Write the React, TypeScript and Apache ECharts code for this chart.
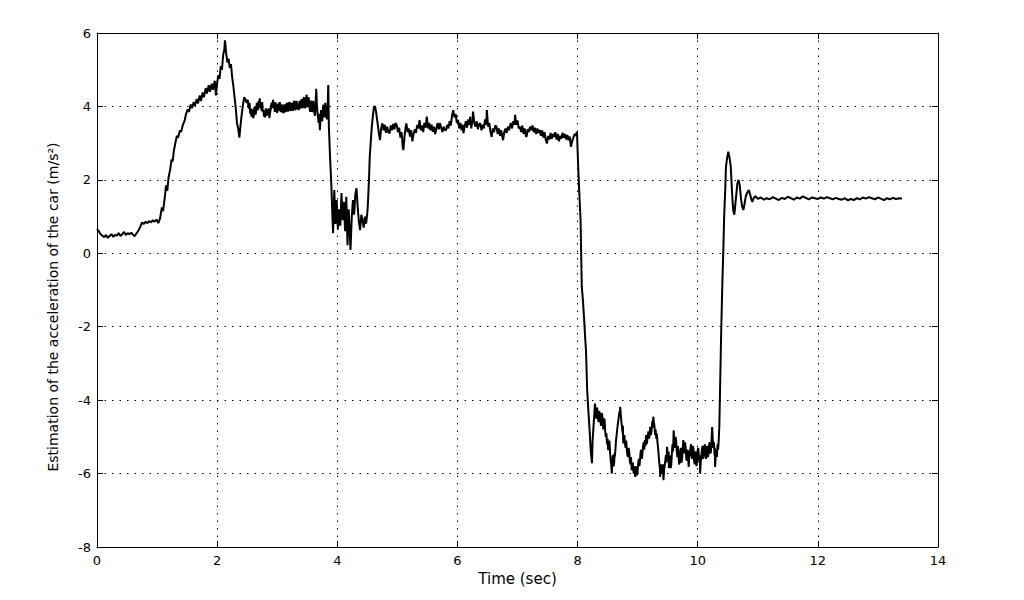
import React, { useEffect, useRef } from "react";
import * as echarts from "echarts";

// Time (sec) / acceleration estimate (m/s^2) pairs, by phase
const idle: [number, number][] = [
  [0.0, 0.66], [0.03, 0.6], [0.06, 0.52], [0.09, 0.48], [0.12, 0.44], [0.15, 0.5], [0.18, 0.42],
  [0.21, 0.47], [0.24, 0.52], [0.27, 0.45], [0.3, 0.5], [0.33, 0.48], [0.36, 0.55], [0.39, 0.47],
  [0.42, 0.52], [0.45, 0.58], [0.48, 0.5], [0.51, 0.55], [0.54, 0.52], [0.57, 0.56], [0.6, 0.5],
  [0.63, 0.47], [0.66, 0.55], [0.69, 0.62], [0.72, 0.72], [0.75, 0.84], [0.78, 0.8], [0.81, 0.86],
  [0.84, 0.82], [0.87, 0.88], [0.9, 0.84], [0.93, 0.9], [0.96, 0.86], [0.99, 0.92], [1.02, 0.82],
  [1.05, 0.95],
];

const launch: [number, number][] = [
  [1.08, 1.25], [1.1, 1.15], [1.13, 1.55], [1.15, 1.85], [1.17, 1.7], [1.19, 2.05], [1.22, 2.3],
  [1.24, 2.55], [1.26, 2.5], [1.28, 2.8], [1.31, 3.05], [1.33, 3.2], [1.35, 3.15], [1.38, 3.35],
  [1.4, 3.3], [1.43, 3.5], [1.46, 3.62], [1.48, 3.78], [1.51, 3.92], [1.53, 3.85], [1.56, 4.05],
  [1.58, 3.95], [1.61, 4.12], [1.63, 4.02], [1.66, 4.2], [1.68, 4.08], [1.71, 4.3], [1.73, 4.15],
  [1.76, 4.38], [1.78, 4.25], [1.81, 4.5], [1.83, 4.35], [1.86, 4.58], [1.88, 4.4], [1.91, 4.62],
  [1.93, 4.45], [1.96, 4.7], [1.98, 4.3], [2.0, 4.65],
];

const peak: [number, number][] = [
  [2.02, 4.85], [2.04, 4.75], [2.06, 5.1], [2.08, 5.0], [2.1, 5.4], [2.12, 5.55], [2.13, 5.8],
  [2.15, 5.45], [2.17, 5.2], [2.19, 5.3], [2.21, 5.05], [2.23, 5.15], [2.25, 4.8], [2.27, 4.55],
  [2.29, 4.25], [2.31, 3.95], [2.33, 3.55], [2.35, 3.4], [2.37, 3.15], [2.39, 3.5], [2.41, 3.8],
  [2.43, 4.05], [2.45, 4.25], [2.47, 4.2], [2.49, 4.1],
];

const cruise1: [number, number][] = [
  [2.51, 4.18], [2.52, 3.98], [2.53, 3.95], [2.54, 4.1], [2.55, 3.8], [2.56, 3.95], [2.57, 3.72],
  [2.58, 3.92], [2.59, 3.85], [2.6, 3.68], [2.61, 3.75], [2.62, 3.98], [2.63, 3.95], [2.64, 3.78],
  [2.65, 3.88], [2.66, 4.1], [2.67, 4.05], [2.68, 3.9], [2.69, 4.15], [2.7, 3.98], [2.71, 4.22],
  [2.72, 3.95], [2.73, 4.05], [2.74, 3.88], [2.75, 4.12], [2.76, 3.85], [2.77, 3.9], [2.78, 3.72],
  [2.79, 3.85], [2.8, 3.7], [2.81, 3.95], [2.82, 3.78], [2.83, 3.75], [2.84, 3.92], [2.85, 3.8],
  [2.86, 3.95], [2.87, 3.68], [2.88, 3.82], [2.89, 3.9], [2.9, 4.05], [2.91, 4.1], [2.92, 3.95],
  [2.93, 4.18], [2.94, 3.98], [2.95, 4.0], [2.96, 3.85], [2.97, 4.12], [2.98, 3.9], [2.99, 3.95],
  [3.0, 3.82], [3.01, 4.08], [3.02, 3.88], [3.03, 3.92], [3.04, 4.12], [3.05, 4.05], [3.06, 3.85],
  [3.07, 3.88], [3.08, 4.05], [3.09, 3.98], [3.1, 3.82], [3.11, 3.85], [3.12, 4.05], [3.13, 4.02],
  [3.14, 3.85], [3.15, 3.9], [3.16, 4.1], [3.17, 4.06], [3.18, 3.86], [3.19, 3.94], [3.2, 4.12],
  [3.21, 4.08], [3.22, 3.88], [3.23, 3.92], [3.24, 4.1], [3.25, 4.04], [3.26, 3.88], [3.27, 3.96],
  [3.28, 4.15], [3.29, 4.1], [3.3, 3.9], [3.31, 3.95], [3.32, 4.15], [3.33, 4.08], [3.34, 3.92],
  [3.35, 4.0], [3.36, 3.9], [3.37, 4.15], [3.38, 3.95], [3.39, 3.98], [3.4, 4.15], [3.41, 4.2],
  [3.42, 3.95], [3.43, 4.05], [3.44, 4.22], [3.45, 4.25], [3.46, 3.95], [3.47, 4.0], [3.48, 4.2],
  [3.49, 4.32], [3.5, 3.98], [3.51, 4.05], [3.52, 4.25], [3.53, 4.18], [3.54, 3.95], [3.55, 3.85],
  [3.56, 4.15], [3.57, 4.1], [3.58, 3.85], [3.59, 3.92], [3.6, 4.15], [3.61, 4.0], [3.62, 3.8],
  [3.63, 3.75], [3.64, 4.1], [3.65, 4.48], [3.66, 4.05], [3.67, 3.85], [3.68, 3.7], [3.69, 3.55],
  [3.7, 3.8], [3.71, 3.35], [3.72, 3.6], [3.73, 3.9], [3.74, 3.7], [3.75, 3.6], [3.76, 3.92],
  [3.77, 4.05], [3.78, 3.8], [3.79, 3.7], [3.8, 4.1], [3.81, 3.95], [3.82, 3.75], [3.83, 3.65],
  [3.84, 4.0], [3.85, 4.58], [3.86, 3.45], [3.88, 2.6], [3.9, 1.9],
];

const dip: [number, number][] = [
  [3.92, 0.95], [3.93, 0.55], [3.95, 1.72], [3.97, 0.8], [3.99, 1.45], [4.01, 0.65], [4.03, 1.2],
  [4.05, 0.75], [4.07, 1.64], [4.09, 0.9], [4.11, 1.4], [4.13, 0.6], [4.15, 1.54], [4.17, 0.22],
  [4.19, 1.2], [4.21, 0.45], [4.22, 0.09], [4.24, 0.95], [4.26, 1.45], [4.28, 1.05], [4.3, 1.6],
  [4.32, 1.77], [4.34, 1.25], [4.36, 0.85], [4.38, 0.63], [4.4, 1.05], [4.42, 0.9], [4.44, 0.7],
  [4.46, 1.0], [4.48, 0.81], [4.5, 1.1], [4.51, 1.36], [4.53, 2.1], [4.54, 2.63], [4.56, 3.1],
  [4.57, 3.36], [4.59, 3.7], [4.61, 3.99], [4.63, 4.0], [4.65, 3.8], [4.67, 3.55], [4.69, 3.3],
  [4.71, 3.08], [4.73, 3.4],
];

const cruise2: [number, number][] = [
  [4.75, 3.54], [4.77, 3.35], [4.79, 3.5], [4.81, 3.28], [4.83, 3.45], [4.85, 3.3], [4.87, 3.27],
  [4.89, 3.48], [4.91, 3.35], [4.93, 3.52], [4.95, 3.38], [4.97, 3.55], [4.99, 3.49], [5.01, 3.3],
  [5.03, 3.42], [5.05, 3.15], [5.07, 3.3], [5.09, 2.9], [5.1, 2.81], [5.12, 3.2], [5.14, 3.45],
  [5.15, 3.54], [5.17, 3.3], [5.19, 3.4], [5.21, 3.18], [5.23, 3.35], [5.25, 3.05], [5.27, 3.25],
  [5.29, 3.38], [5.31, 3.28], [5.33, 3.5], [5.35, 3.4], [5.37, 3.63], [5.39, 3.35], [5.41, 3.48],
  [5.43, 3.3], [5.45, 3.55], [5.47, 3.42], [5.49, 3.72], [5.51, 3.4], [5.53, 3.55], [5.55, 3.35],
  [5.57, 3.5], [5.59, 3.31], [5.61, 3.45], [5.63, 3.25], [5.65, 3.4], [5.67, 3.55], [5.69, 3.38],
  [5.71, 3.54], [5.73, 3.42], [5.75, 3.3], [5.77, 3.45], [5.79, 3.35], [5.81, 3.36], [5.83, 3.5],
  [5.85, 3.4], [5.87, 3.6], [5.89, 3.48], [5.91, 3.75], [5.93, 3.9], [5.95, 3.7], [5.97, 3.8],
  [5.99, 3.55], [6.01, 3.63], [6.03, 3.4], [6.05, 3.55], [6.07, 3.35], [6.09, 3.5], [6.1, 3.27],
  [6.12, 3.45], [6.14, 3.6], [6.16, 3.42], [6.18, 3.65], [6.2, 3.5], [6.21, 3.72], [6.23, 3.4],
  [6.25, 3.62], [6.26, 3.86], [6.28, 3.55], [6.3, 3.45], [6.32, 3.6], [6.34, 3.38], [6.36, 3.52],
  [6.38, 3.54], [6.4, 3.35], [6.42, 3.5], [6.44, 3.4], [6.46, 3.65], [6.48, 3.5], [6.49, 3.9],
  [6.51, 3.45], [6.53, 3.55], [6.55, 3.3], [6.57, 3.17], [6.59, 3.4], [6.61, 3.3], [6.63, 3.48],
  [6.65, 3.45], [6.67, 3.25], [6.69, 3.4], [6.71, 3.2], [6.73, 3.35], [6.75, 3.15], [6.76, 3.08],
  [6.78, 3.3], [6.8, 3.4], [6.82, 3.28], [6.84, 3.45], [6.86, 3.35], [6.87, 3.45], [6.89, 3.55],
  [6.91, 3.4], [6.93, 3.6], [6.95, 3.5], [6.96, 3.77], [6.98, 3.5], [7.0, 3.62], [7.02, 3.4],
  [7.04, 3.45], [7.06, 3.3], [7.08, 3.48], [7.1, 3.25], [7.12, 3.4], [7.14, 3.2], [7.15, 3.17],
  [7.17, 3.38], [7.19, 3.3], [7.21, 3.45], [7.23, 3.35], [7.25, 3.48], [7.27, 3.3], [7.29, 3.42],
  [7.31, 3.25], [7.33, 3.4], [7.35, 3.28], [7.37, 3.36], [7.39, 3.2], [7.41, 3.35], [7.43, 3.15],
  [7.45, 3.3], [7.47, 3.1], [7.49, 2.99], [7.51, 3.2], [7.53, 3.1], [7.55, 3.28], [7.57, 3.12],
  [7.59, 3.25], [7.61, 3.17], [7.63, 3.3], [7.65, 3.1], [7.67, 3.25], [7.69, 3.05], [7.71, 3.2],
  [7.73, 3.12], [7.75, 3.28], [7.77, 3.15], [7.79, 3.25], [7.81, 3.1], [7.83, 3.22], [7.85, 3.08],
  [7.87, 3.18], [7.89, 2.9], [7.91, 3.05], [7.93, 3.15], [7.95, 3.25], [7.97, 3.2], [7.99, 3.31],
];

const braking: [number, number][] = [
  [8.01, 2.36], [8.03, 1.6], [8.05, 0.9], [8.07, -0.91], [8.09, -1.3], [8.11, -1.82], [8.13, -2.4],
  [8.14, -2.64], [8.16, -3.73], [8.18, -4.3], [8.2, -4.82], [8.22, -5.4], [8.24, -5.72], [8.25, -5.1],
];

const hardBrake: [number, number][] = [
  [8.27, -4.6], [8.28, -4.35], [8.29, -4.09], [8.3, -4.4], [8.31, -4.5], [8.32, -4.2], [8.33, -4.25],
  [8.34, -4.5], [8.35, -4.6], [8.36, -4.3], [8.37, -4.36], [8.38, -4.55], [8.39, -4.7], [8.4, -4.35],
  [8.41, -4.4], [8.42, -4.65], [8.43, -4.8], [8.44, -4.5], [8.45, -4.54], [8.46, -4.85], [8.47, -5.0],
  [8.48, -4.9], [8.49, -5.2], [8.5, -5.05], [8.51, -5.36], [8.52, -5.2], [8.53, -5.1], [8.54, -5.4],
  [8.55, -5.6], [8.56, -5.75], [8.57, -6.0], [8.58, -5.65], [8.59, -5.5], [8.6, -5.8], [8.61, -5.7],
  [8.615, -5.45], [8.62, -5.54], [8.63, -5.35], [8.64, -5.1], [8.65, -4.95], [8.66, -4.8],
  [8.67, -4.65], [8.68, -4.54], [8.69, -4.4], [8.7, -4.3], [8.705, -4.45], [8.71, -4.18],
  [8.72, -4.4], [8.73, -4.6], [8.74, -4.75], [8.75, -4.9], [8.755, -4.7], [8.76, -5.18],
  [8.77, -5.05], [8.78, -4.95], [8.79, -5.2], [8.8, -5.3], [8.81, -5.1], [8.82, -5.36], [8.83, -5.5],
  [8.84, -5.55], [8.85, -5.3], [8.86, -5.4], [8.87, -5.65], [8.88, -5.75], [8.89, -5.55],
  [8.9, -5.91], [8.91, -5.75], [8.92, -5.7], [8.93, -5.95], [8.94, -6.0], [8.95, -5.8], [8.96, -6.09],
  [8.97, -5.85], [8.98, -5.8], [8.99, -6.05], [9.0, -5.95], [9.01, -5.7], [9.02, -5.6], [9.03, -5.8],
  [9.04, -5.63], [9.05, -5.4], [9.06, -5.35], [9.07, -5.6], [9.08, -5.45], [9.09, -5.25],
  [9.1, -5.15], [9.11, -5.35], [9.12, -5.09], [9.13, -5.25], [9.14, -4.95], [9.15, -5.2],
  [9.16, -5.1], [9.17, -4.95], [9.18, -4.85], [9.19, -5.05], [9.2, -4.95], [9.205, -4.8],
  [9.21, -4.73], [9.22, -4.95], [9.23, -4.85], [9.24, -4.65], [9.25, -4.55], [9.255, -4.75],
  [9.26, -4.45], [9.27, -4.6], [9.28, -4.7], [9.29, -4.95], [9.3, -4.8], [9.31, -5.05], [9.32, -4.91],
  [9.33, -5.15], [9.34, -5.3], [9.35, -5.5], [9.36, -5.7], [9.37, -5.85], [9.375, -6.09],
  [9.38, -5.9], [9.39, -5.75], [9.4, -6.0], [9.41, -5.95], [9.42, -5.75], [9.43, -6.18], [9.44, -5.9],
  [9.45, -5.8], [9.46, -5.65], [9.47, -5.5], [9.48, -5.7], [9.49, -5.27], [9.5, -5.5], [9.51, -5.6],
  [9.515, -5.4], [9.52, -5.85], [9.53, -5.6], [9.54, -5.5], [9.55, -5.85], [9.56, -5.75],
  [9.57, -5.45], [9.58, -5.2], [9.59, -5.4], [9.6, -4.82], [9.61, -5.1], [9.62, -5.3], [9.63, -5.0],
  [9.64, -5.1], [9.65, -5.35], [9.66, -5.55], [9.67, -5.25], [9.68, -5.45], [9.69, -5.75],
  [9.7, -5.7], [9.71, -5.4], [9.72, -5.3], [9.73, -5.7], [9.74, -5.6], [9.75, -5.35], [9.76, -5.09],
  [9.77, -5.35], [9.78, -5.45], [9.79, -5.15], [9.8, -5.3], [9.81, -5.6], [9.82, -5.65],
  [9.83, -5.35], [9.84, -5.4], [9.845, -5.7], [9.85, -5.82], [9.86, -5.55], [9.87, -5.5],
  [9.88, -5.3], [9.89, -5.2], [9.9, -5.5], [9.91, -5.6], [9.92, -5.25], [9.93, -5.35], [9.94, -5.65],
  [9.95, -5.75], [9.96, -5.4], [9.97, -5.45], [9.98, -5.8], [9.99, -5.63], [10.0, -5.35],
  [10.01, -5.3], [10.02, -5.55], [10.03, -5.7], [10.035, -5.5], [10.04, -6.0], [10.05, -5.7],
  [10.06, -5.55], [10.07, -5.35], [10.08, -5.25], [10.09, -5.6], [10.1, -5.5], [10.11, -5.25],
  [10.12, -5.2], [10.13, -5.5], [10.14, -5.6], [10.15, -5.25], [10.16, -5.3], [10.17, -5.55],
  [10.18, -5.45], [10.19, -5.2], [10.2, -5.15], [10.21, -5.45], [10.22, -5.4], [10.23, -5.1],
  [10.24, -4.73], [10.25, -5.05], [10.26, -5.3], [10.27, -5.15], [10.28, -5.5], [10.285, -5.3],
  [10.29, -5.82], [10.3, -5.5], [10.31, -5.35], [10.32, -5.55], [10.33, -5.2], [10.34, -5.35],
  [10.35, -5.09], [10.36, -4.7],
];

const rebound: [number, number][] = [
  [10.375, -3.45], [10.39, -2.2], [10.41, -0.82], [10.43, 0.3], [10.44, 1.0], [10.46, 1.8],
  [10.47, 2.36], [10.49, 2.6], [10.51, 2.77], [10.53, 2.6], [10.55, 2.36], [10.57, 1.7], [10.59, 1.18],
  [10.61, 1.05], [10.63, 1.4], [10.66, 1.9], [10.68, 2.0], [10.7, 1.85], [10.72, 1.5], [10.74, 1.27],
  [10.76, 1.18], [10.78, 1.35], [10.8, 1.55], [10.82, 1.64], [10.85, 1.72], [10.87, 1.62],
  [10.89, 1.48], [10.91, 1.4], [10.93, 1.5], [10.96, 1.56],
];

const steady: [number, number][] = [
  [11.0, 1.48], [11.05, 1.52], [11.1, 1.46], [11.15, 1.5], [11.2, 1.47], [11.25, 1.53], [11.3, 1.49],
  [11.35, 1.45], [11.4, 1.51], [11.45, 1.48], [11.5, 1.54], [11.55, 1.5], [11.6, 1.46], [11.65, 1.52],
  [11.7, 1.49], [11.75, 1.55], [11.8, 1.51], [11.85, 1.47], [11.9, 1.52], [11.95, 1.5], [12.0, 1.48],
  [12.05, 1.52], [12.1, 1.49], [12.15, 1.53], [12.2, 1.5], [12.25, 1.47], [12.3, 1.51], [12.35, 1.48],
  [12.4, 1.46], [12.45, 1.5], [12.5, 1.44], [12.55, 1.48], [12.6, 1.45], [12.65, 1.5], [12.7, 1.47],
  [12.75, 1.52], [12.8, 1.49], [12.85, 1.53], [12.9, 1.5], [12.95, 1.47], [13.0, 1.52], [13.05, 1.49],
  [13.1, 1.45], [13.15, 1.5], [13.2, 1.47], [13.25, 1.51], [13.3, 1.48], [13.35, 1.5], [13.4, 1.49],
];

const xTicks = [0, 2, 4, 6, 8, 10, 12, 14];
const yTicks = [-8, -6, -4, -2, 0, 2, 4, 6];

const xTitle = "Time (sec)";
const yTitle = "Estimation of the acceleration of the car (m/s\u00B2)";

export default function App() {
  const ref = useRef<HTMLDivElement>(null);

  useEffect(() => {
    if (!ref.current) return;
    const chart = echarts.init(ref.current, null, { renderer: "svg" });
    const font = "DejaVu Sans";
    const xMin = xTicks[0];
    const xMax = xTicks[xTicks.length - 1];
    const yMin = yTicks[0];
    const yMax = yTicks[yTicks.length - 1];
    const dotted = { color: "#000", width: 1, type: [1.5, 6] as number[] };
    const axisLine = { show: true, onZero: false, lineStyle: { color: "#000", width: 1 } };
    const tick = { show: true, inside: true, length: 6, lineStyle: { color: "#000", width: 1 } };
    const data = [
      ...idle, ...launch, ...peak, ...cruise1, ...dip, ...cruise2,
      ...braking, ...hardBrake, ...rebound, ...steady,
    ];
    chart.setOption({
      animation: false,
      backgroundColor: "#ffffff",
      grid: { left: 97, right: 86, top: 33, bottom: 53, containLabel: false },
      xAxis: [
        {
          type: "value", min: xMin, max: xMax, interval: 2, position: "bottom",
          name: xTitle, nameLocation: "middle", nameGap: 23,
          nameTextStyle: { fontFamily: font, fontSize: 15, color: "#000" },
          axisLine, axisTick: tick,
          axisLabel: { fontFamily: font, fontSize: 13, color: "#000", margin: 7 },
          splitLine: { show: true, lineStyle: dotted },
        },
        {
          type: "value", min: xMin, max: xMax, interval: 2, position: "top",
          axisLine, axisTick: tick, axisLabel: { show: false }, splitLine: { show: false },
        },
      ],
      yAxis: [
        {
          type: "value", min: yMin, max: yMax, interval: 2, position: "left",
          name: yTitle, nameLocation: "middle", nameGap: 37, nameRotate: 90,
          nameTextStyle: { fontFamily: font, fontSize: 14, color: "#000", padding: [0, 34, 0, 0] },
          axisLine, axisTick: tick,
          axisLabel: { fontFamily: font, fontSize: 13, color: "#000", margin: 6 },
          splitLine: { show: true, lineStyle: dotted },
        },
        {
          type: "value", min: yMin, max: yMax, interval: 2, position: "right",
          axisLine, axisTick: tick, axisLabel: { show: false }, splitLine: { show: false },
        },
      ],
      series: [
        {
          type: "line",
          xAxisIndex: 0,
          yAxisIndex: 0,
          data,
          showSymbol: false,
          symbol: "none",
          lineStyle: { color: "#000", width: 2 },
          z: 5,
        },
      ],
    });
    return () => chart.dispose();
  }, []);

  return (
    <div
      ref={ref}
      style={{ position: "fixed", left: 0, top: 0, width: 1024, height: 600, background: "#fff" }}
    />
  );
}
